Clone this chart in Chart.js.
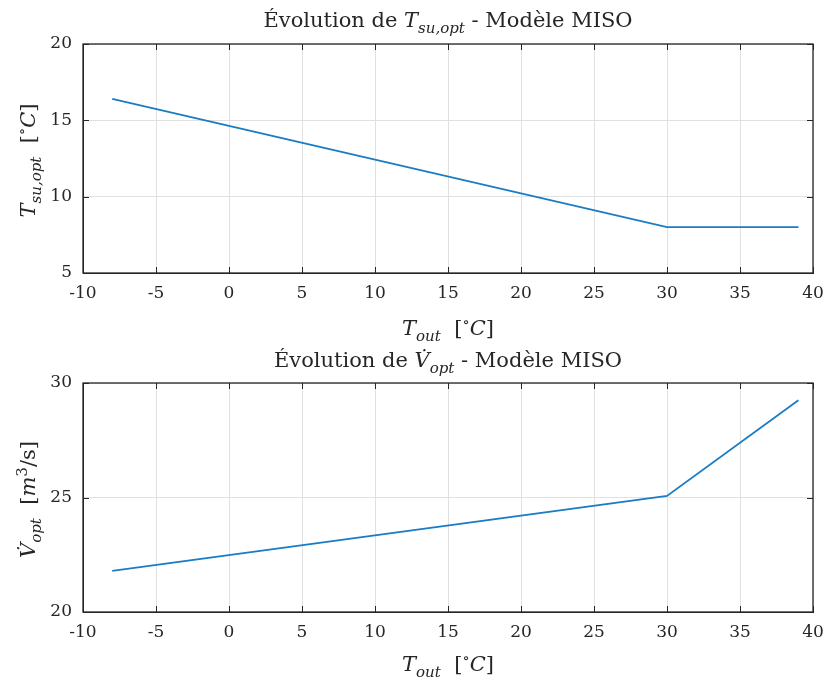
<!DOCTYPE html>
<html>
<head>
<meta charset="utf-8">
<script src="https://cdn.jsdelivr.net/npm/chart.js@4.4.0/dist/chart.umd.min.js"></script>
<style>
  html, body { margin: 0; padding: 0; background: #fff; }
  canvas { display: block; }
</style>
</head>
<body>
<canvas id="topChart" width="831" height="342"></canvas>
<canvas id="bottomChart" width="831" height="342"></canvas>
<script>
// breakpoints of the two curves
const tOut = [-8, 30, 39];
const tSuOpt = [16.4, 8.0, 8.0];
const vOpt = [21.8, 25.07, 29.25];

const FONT = '"DejaVu Serif", "Liberation Serif", serif';
const INK = "#262626";

// draw a label made of pieces (italic / subscript / superscript)
function drawRich(ctx, segs, x, y, size, rotate) {
  ctx.save();
  ctx.translate(x, y);
  if (rotate) ctx.rotate(-Math.PI / 2);
  const fontOf = s => (s.it ? "italic " : "") + ((s.sub || s.sup) ? Math.round(size * 0.7) : size) + "px " + FONT;
  let w = 0;
  segs.forEach(s => { ctx.font = fontOf(s); s.w = ctx.measureText(s.t).width; w += s.w; });
  let cx = -w / 2;
  ctx.fillStyle = INK;
  ctx.textBaseline = "alphabetic";
  segs.forEach(s => {
    ctx.font = fontOf(s);
    const dy = s.sub ? size * 0.28 : s.sup ? -size * 0.4 : 0;
    ctx.fillText(s.t, cx, size * 0.35 + dy);
    cx += s.w;
  });
  ctx.restore();
}

const matlabAxes = {
  id: "matlabAxes",
  afterDatasetsDraw(chart, args, opts) {
    const { ctx, chartArea: a, scales } = chart;
    ctx.save();
    ctx.strokeStyle = INK;
    ctx.lineWidth = 1;
    // inner tick marks
    ctx.beginPath();
    scales.x.ticks.forEach(t => {
      const px = Math.round(scales.x.getPixelForValue(t.value)) + 0.5;
      ctx.moveTo(px, a.bottom); ctx.lineTo(px, a.bottom - 6);
      ctx.moveTo(px, a.top); ctx.lineTo(px, a.top + 6);
    });
    scales.y.ticks.forEach(t => {
      const py = Math.round(scales.y.getPixelForValue(t.value)) + 0.5;
      ctx.moveTo(a.left, py); ctx.lineTo(a.left + 6, py);
      ctx.moveTo(a.right, py); ctx.lineTo(a.right - 6, py);
    });
    ctx.stroke();
    ctx.lineWidth = 1.3;
    ctx.strokeRect(a.left, a.top, a.right - a.left, a.bottom - a.top);
    ctx.restore();
  },
  afterDraw(chart, args, opts) {
    const { ctx, chartArea: a } = chart;
    const mid = (a.left + a.right) / 2;
    drawRich(ctx, opts.title, mid, opts.titleY, 21, false);
    drawRich(ctx, opts.xlabel, mid, opts.xlabelY, 21, false);
    drawRich(ctx, opts.ylabel, 28, (a.top + a.bottom) / 2 + 2, 21, true);
  }
};

const xLabelSegs = [
  { t: "T", it: true }, { t: "out", it: true, sub: true },
  { t: "  [" }, { t: "\u2218", sup: true }, { t: "C", it: true }, { t: "]" }
];

function makeChart(id, yValues, yMin, yMax, yStep, plotTop, plotBottom, title, ylabel, titleY, xlabelY) {
  const points = tOut.map((x, i) => ({ x: x, y: yValues[i] }));
  return new Chart(document.getElementById(id).getContext("2d"), {
    type: "line",
    data: {
      datasets: [{
        data: points,
        borderColor: "#1a7cc4",
        borderWidth: 1.8,
        pointRadius: 0,
        fill: false,
        tension: 0
      }]
    },
    options: {
      responsive: false,
      animation: false,
      layout: { padding: { top: plotTop, right: 18, left: 0, bottom: 0 } },
      plugins: {
        legend: { display: false },
        tooltip: { enabled: false },
        matlabAxes: { title: title, ylabel: ylabel, xlabel: xLabelSegs, titleY: titleY, xlabelY: xlabelY }
      },
      scales: {
        x: {
          type: "linear", min: -10, max: 40,
          ticks: { stepSize: 5, color: INK, font: { family: FONT, size: 17 }, padding: 10, maxRotation: 0 },
          grid: { color: "#e0e0e0", drawTicks: false },
          border: { color: INK },
          afterFit: s => { s.height = 342 - plotBottom; s.paddingLeft = 0; s.paddingRight = 0; }
        },
        y: {
          min: yMin, max: yMax,
          ticks: { stepSize: yStep, color: INK, font: { family: FONT, size: 17 }, padding: 11 },
          grid: { color: "#e0e0e0", drawTicks: false },
          border: { color: INK },
          afterFit: s => { s.width = 83; }
        }
      }
    },
    plugins: [matlabAxes]
  });
}

makeChart("topChart", tSuOpt, 5, 20, 5, 44, 273,
  [{ t: "\u00C9volution de " }, { t: "T", it: true }, { t: "su,opt", it: true, sub: true }, { t: " - Mod\u00E8le MISO" }],
  [{ t: "T", it: true }, { t: "su,opt", it: true, sub: true }, { t: "  [" }, { t: "\u2218", sup: true }, { t: "C", it: true }, { t: "]" }],
  20, 328);

makeChart("bottomChart", vOpt, 20, 30, 5, 41, 270,
  [{ t: "\u00C9volution de " }, { t: "V\u0307", it: true }, { t: "opt", it: true, sub: true }, { t: " - Mod\u00E8le MISO" }],
  [{ t: "V\u0307", it: true }, { t: "opt", it: true, sub: true }, { t: "  [" }, { t: "m", it: true }, { t: "3", sup: true }, { t: "/s" }, { t: "]" }],
  18, 322);
</script>
</body>
</html>
